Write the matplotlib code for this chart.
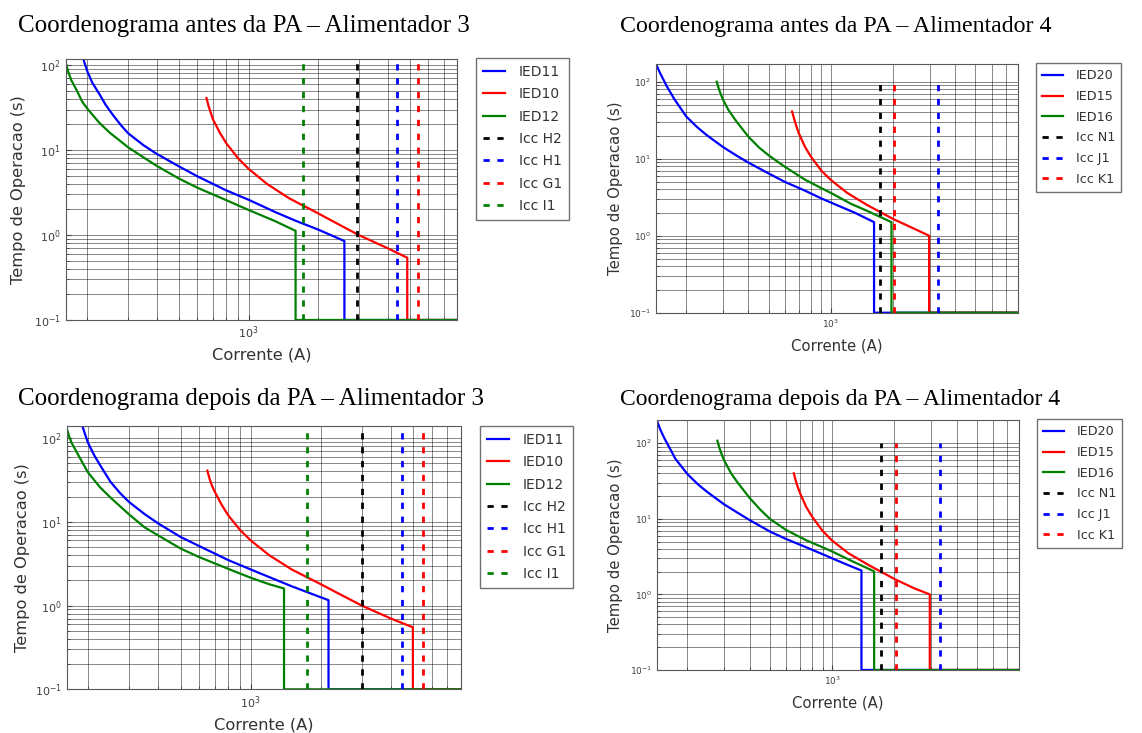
import matplotlib
matplotlib.use('Agg')
import matplotlib.pyplot as plt

plt.rcParams['font.family'] = ['DejaVu Sans']
plt.rcParams['lines.scale_dashes'] = False
plt.rcParams['xtick.direction'] = 'in'
plt.rcParams['ytick.direction'] = 'in'

# ---- painel 1: antes da PA, alimentador 3 ----
a3_antes_ied11_i = [192, 195, 200, 210, 226, 240, 259, 280, 300, 350, 400, 500, 600, 700, 800,
                    1000, 1300, 1600, 2000, 2600, 2600, 8000]
a3_antes_ied11_t = [118, 103, 84, 62, 45, 34, 25.5, 19.5, 15.8, 11.4, 9.0, 6.4, 4.9, 4.0, 3.35,
                    2.6, 1.87, 1.47, 1.16, 0.85, 0.1, 0.1]
a3_antes_ied10_i = [656, 670, 700, 750, 800, 900, 1000, 1200, 1500, 2000, 2500, 3000, 4000,
                    4870, 4870, 8000]
a3_antes_ied10_t = [41, 33, 23, 16, 12, 8, 6, 4.0, 2.7, 1.8, 1.3, 1.0, 0.7, 0.54, 0.1, 0.1]
a3_antes_ied12_i = [161, 165, 170, 180, 190, 200, 225, 250, 300, 350, 400, 500, 600, 800,
                    1000, 1300, 1597, 1597, 8000]
a3_antes_ied12_t = [107, 84, 67, 50, 37, 30.6, 21, 16, 10.8, 8.2, 6.5, 4.6, 3.6, 2.57,
                    1.97, 1.46, 1.12, 0.1, 0.1]
a3_antes_icc = [2950, 4385, 5405, 1722]  # H2, H1, G1, I1

# ---- painel 2: antes da PA, alimentador 4 ----
a4_antes_ied20_i = [143, 150, 161, 175, 200, 225, 250, 300, 350, 400, 500, 600, 750, 900,
                    1000, 1300, 1618, 1618, 8000]
a4_antes_ied20_t = [170, 128, 88, 60, 35.5, 26, 20.5, 14.3, 11.0, 8.9, 6.45, 5.0, 3.85, 3.05,
                    2.7, 2.0, 1.5, 0.1, 0.1]
a4_antes_ied15_i = [650, 665, 680, 700, 750, 800, 900, 1000, 1200, 1500, 2000, 2500, 2985,
                    2985, 8000]
a4_antes_ied15_t = [41, 33, 27, 21.5, 14.3, 10.7, 7.0, 5.3, 3.6, 2.5, 1.65, 1.25, 1.0, 0.1, 0.1]
a4_antes_ied16_i = [281, 285, 290, 300, 320, 350, 400, 450, 500, 600, 750, 900, 1000, 1250,
                    1500, 1964, 1964, 8000]
a4_antes_ied16_t = [100, 88, 76, 60, 43, 30.5, 19.3, 14.0, 11.1, 7.85, 5.35, 4.15, 3.6, 2.6,
                    2.1, 1.5, 0.1, 0.1]
a4_antes_icc = [1725, 3300, 2010]  # N1, J1, K1

# ---- painel 3: depois da PA, alimentador 3 ----
a3_depois_ied11_i = [189, 195, 200, 213, 226, 240, 250, 275, 300, 350, 400, 500, 600, 800,
                     1000, 1500, 2158, 2158, 8000]
a3_depois_ied11_t = [141, 108, 88, 62, 47, 36, 30, 22, 17.3, 12.4, 9.6, 6.6, 5.15, 3.5,
                     2.7, 1.7, 1.16, 0.1, 0.1]
a3_depois_ied10_i = [651, 665, 680, 700, 750, 800, 900, 1000, 1200, 1500, 2000, 2500, 3000,
                     4000, 4970, 4970, 8000]
a3_depois_ied10_t = [41, 33, 27.5, 23, 16, 12, 8, 6, 4, 2.7, 1.8, 1.3, 1.0, 0.7, 0.55, 0.1, 0.1]
a3_depois_ied12_i = [162, 166, 170, 180, 190, 200, 225, 250, 300, 350, 400, 500, 600, 800,
                     1000, 1200, 1390, 1390, 8000]
a3_depois_ied12_t = [131, 105, 88, 66, 50, 39, 26, 19.5, 12.3, 8.6, 6.9, 4.8, 3.8, 2.75,
                     2.15, 1.8, 1.6, 0.1, 0.1]
a3_depois_icc = [3000, 4456, 5520, 1741]  # H2, H1, G1, I1

# ---- painel 4: depois da PA, alimentador 4 ----
a4_depois_ied20_i = [142, 148, 155, 161, 175, 200, 225, 250, 300, 350, 400, 500, 600, 750,
                     900, 1000, 1200, 1386, 1386, 8000]
a4_depois_ied20_t = [203, 150, 115, 95, 62, 39, 28.5, 22.5, 15.6, 12.0, 9.6, 6.8, 5.4, 4.2,
                     3.4, 3.0, 2.43, 2.07, 0.1, 0.1]
a4_depois_ied15_i = [653, 665, 680, 700, 750, 800, 900, 1000, 1200, 1500, 2000, 2500, 2965,
                     2965, 8000]
a4_depois_ied15_t = [40, 33, 27, 21.8, 14.3, 10.7, 6.9, 5.15, 3.5, 2.45, 1.6, 1.2, 1.0, 0.1, 0.1]
a4_depois_ied16_i = [279, 285, 290, 300, 325, 350, 400, 450, 500, 600, 750, 900, 1000, 1250,
                     1596, 1596, 8000]
a4_depois_ied16_t = [108, 88, 76, 60, 40, 30, 18.8, 13.2, 10.0, 7.1, 5.2, 4.2, 3.7, 2.75,
                     2.02, 0.1, 0.1]
a4_depois_icc = [1730, 3334, 2032]  # N1, J1, K1

a3_labels = ['IED11', 'IED10', 'IED12', 'Icc H2', 'Icc H1', 'Icc G1', 'Icc I1']
a4_labels = ['IED20', 'IED15', 'IED16', 'Icc N1', 'Icc J1', 'Icc K1']
a3_icc_colors = ['k', 'b', 'r', 'g']
a4_icc_colors = ['k', 'b', 'r']

titles = ['Coordenograma antes da PA \u2013 Alimentador 3',
          'Coordenograma antes da PA \u2013 Alimentador 4',
          'Coordenograma depois da PA \u2013 Alimentador 3',
          'Coordenograma depois da PA \u2013 Alimentador 4']

W, H = 1142, 733
fig = plt.figure(figsize=(W / 100, H / 100), dpi=100)


def px_axes(left, top, right, bottom):
    return fig.add_axes([left / W, 1 - bottom / H, (right - left) / W, (bottom - top) / H])


def draw_panel(ax, curves, icc, icc_colors, icc_top, labels, xlim, ylim,
               leg_xy, fs_label, fs_leg, fs_tick, ylab_x):
    for (i, t), c in zip(curves, ['b', 'r', 'g']):
        ax.plot(i, t, color=c, lw=1.6)
    for x, c in zip(icc, icc_colors):
        ax.plot([x, x], [0.1, icc_top], color=c, lw=2.0, ls=(0, (4.5, 5.5)))
    ax.set_xscale('log')
    ax.set_yscale('log')
    ax.set_xlim(*xlim)
    ax.set_ylim(*ylim)
    ax.grid(True, which='both', color='k', lw=0.6, alpha=0.55, ls='-')
    ax.tick_params(which='both', labelsize=fs_tick, colors='0.25')
    for s in ax.spines.values():
        s.set_color('0.35')
    ax.set_xlabel('Corrente (A)', fontsize=fs_label, color='0.2', va='center')
    ax.set_ylabel('Tempo de Operacao (s)', fontsize=fs_label, color='0.2', va='center')
    ax.xaxis.set_label_coords(0.5, -0.134)
    ax.yaxis.set_label_coords(ylab_x, 0.5)
    leg = ax.legend(labels, loc='upper left', bbox_to_anchor=(leg_xy[0] / W, 1 - leg_xy[1] / H),
                    bbox_transform=fig.transFigure, fontsize=fs_leg, fancybox=False,
                    edgecolor='0.3', handlelength=1.6, handletextpad=1.0,
                    borderpad=0.5, labelspacing=0.6, borderaxespad=0)
    leg.get_frame().set_linewidth(1.0)
    for txt in leg.get_texts():
        txt.set_color('0.2')


ax1 = px_axes(65.7, 59, 457, 320)
draw_panel(ax1,
           [(a3_antes_ied11_i, a3_antes_ied11_t), (a3_antes_ied10_i, a3_antes_ied10_t),
            (a3_antes_ied12_i, a3_antes_ied12_t)],
           a3_antes_icc, a3_icc_colors, 1000, a3_labels, (161, 8000), (0.1, 118),
           (476, 58), 11.7, 10, 8, -0.12)

ax2 = px_axes(656, 64, 1017.7, 312.7)
draw_panel(ax2,
           [(a4_antes_ied20_i, a4_antes_ied20_t), (a4_antes_ied15_i, a4_antes_ied15_t),
            (a4_antes_ied16_i, a4_antes_ied16_t)],
           a4_antes_icc, a4_icc_colors, 100, a4_labels, (143, 8000), (0.1, 170),
           (1036, 63), 10.7, 9.2, 6.5, -0.113)

ax3 = px_axes(66.7, 425.7, 461, 689.3)
draw_panel(ax3,
           [(a3_depois_ied11_i, a3_depois_ied11_t), (a3_depois_ied10_i, a3_depois_ied10_t),
            (a3_depois_ied12_i, a3_depois_ied12_t)],
           a3_depois_icc, a3_icc_colors, 1000, a3_labels, (162, 8000), (0.1, 141),
           (480, 426), 11.7, 10, 8, -0.113)

ax4 = px_axes(656.7, 420, 1019, 670)
draw_panel(ax4,
           [(a4_depois_ied20_i, a4_depois_ied20_t), (a4_depois_ied15_i, a4_depois_ied15_t),
            (a4_depois_ied16_i, a4_depois_ied16_t)],
           a4_depois_icc, a4_icc_colors, 100, a4_labels, (142, 8000), (0.1, 203),
           (1037, 419), 10.7, 9.2, 6.5, -0.115)

# titulos em serifa, como no documento
title_pos = [(18, 32, 18.0), (620, 32, 17.2), (18, 405, 18.0), (620, 405, 17.0)]
for txt, (x, y, fs) in zip(titles, title_pos):
    fig.text(x / W, 1 - y / H, txt, family='Liberation Serif', fontsize=fs,
             ha='left', va='baseline')

fig.savefig('out.png', dpi=100)
